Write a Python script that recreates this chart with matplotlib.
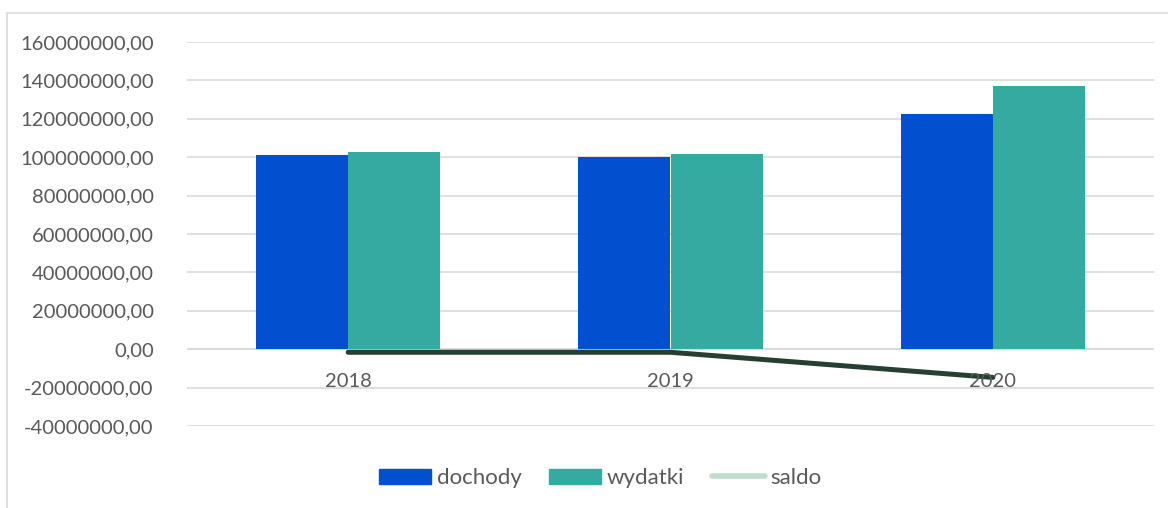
import matplotlib
matplotlib.use('Agg')
from matplotlib import pyplot as plt
from matplotlib.patches import Rectangle, Patch
from matplotlib.lines import Line2D
from matplotlib.ticker import FuncFormatter
import matplotlib.transforms as mtransforms
import numpy as np

# data (PLN)
years = ['2018', '2019', '2020']
dochody = [101100000, 100100000, 122300000]
wydatki = [102700000, 101700000, 137000000]
saldo = [-1600000, -1600000, -14700000]

plt.rcParams['font.family'] = ['Lato', 'DejaVu Sans']
text_col = '#595959'
grid_col = '#d9d9d9'

W, H = 1168, 508
fig = plt.figure(figsize=(W / 100, H / 100), dpi=100)

# outer chart frame (left/top edges visible)
fig.patches.append(Rectangle((7 / W, -0.1), 1.2, (H - 13) / H + 0.1,
                             transform=fig.transFigure, fill=False,
                             edgecolor='#d9d9d9', linewidth=1.2))

ax = fig.add_axes([187 / W, 1 - 426 / H, (1154 - 187) / W, (426 - 42) / H])

x = np.arange(len(years))
bw = 0.2857
ax.bar(x - bw / 2, dochody, bw, color='#0250d0', zorder=2)
ax.bar(x + bw / 2, wydatki, bw, color='#35aaa0', zorder=2)
ax.plot(x, saldo, color='#263f30', linewidth=3.6, solid_capstyle='round',
        solid_joinstyle='round', zorder=3)

ax.set_xlim(-0.5, len(years) - 0.5)
ax.set_ylim(-40000000, 160000000)
ax.set_yticks(np.arange(-40000000, 160000001, 20000000))
ax.yaxis.set_major_formatter(FuncFormatter(lambda v, p: '%d,00' % int(v)))
ax.grid(axis='y', color=grid_col, linewidth=1.2, zorder=0)
ax.axhline(0, color=grid_col, linewidth=1.2, zorder=1)
for s in ax.spines.values():
    s.set_visible(False)
ax.tick_params(axis='y', length=0, pad=24, labelsize=14.5, labelcolor=text_col)
ax.set_xticks([])

# category labels sit just under the zero line
off = mtransforms.offset_copy(ax.transData, fig=fig, x=0, y=-32, units='dots')
for i, yr in enumerate(years):
    ax.text(i, 0, yr, transform=off, ha='center', va='center',
            fontsize=14.5, color=text_col)

handles = [Patch(color='#0250d0', label='dochody'),
           Patch(color='#35aaa0', label='wydatki'),
           Line2D([], [], color='#c2ddce', linewidth=4,
                  solid_capstyle='round', label='saldo')]
fig.legend(handles=handles, loc='center', bbox_to_anchor=(600 / W, 1 - 478 / H),
           ncol=3, frameon=False, fontsize=16, labelcolor=text_col,
           handlelength=2.35, handleheight=0.65, handletextpad=0.25,
           columnspacing=1.25)

fig.savefig('out.png', dpi=100)
